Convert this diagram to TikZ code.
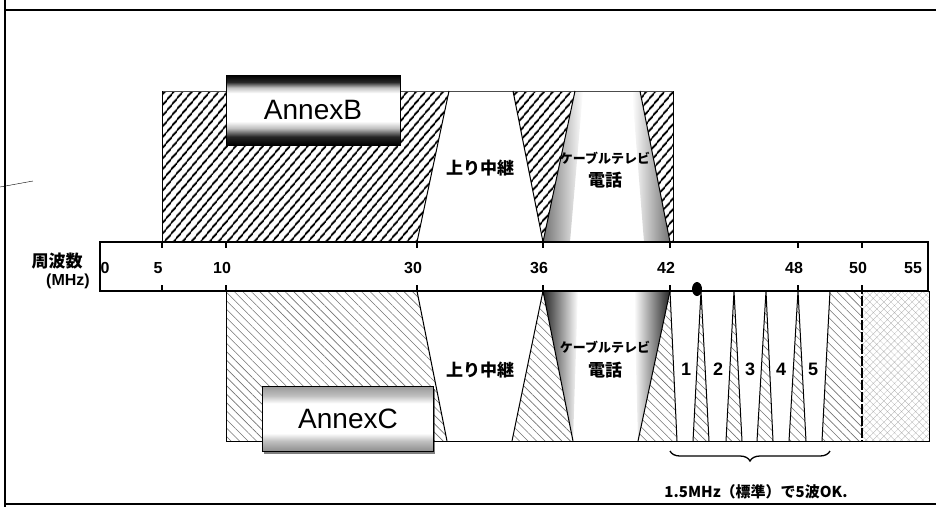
\documentclass[tikz,border=0pt]{standalone}
\usepackage{fontspec}
\setmainfont{Liberation Sans}
\newfontfamily\jpfont{Noto Sans CJK JP}
\usetikzlibrary{patterns.meta,decorations.pathreplacing,shadows}

\pgfdeclareverticalshading{annexBshade}{100bp}{color(0bp)=(black); color(25bp)=(black); color(31bp)=(black!85); color(37bp)=(black!25); color(42bp)=(white); color(62bp)=(white); color(66bp)=(black!25); color(70bp)=(black!85); color(75bp)=(black); color(100bp)=(black)}
\pgfdeclareverticalshading{annexCshade}{100bp}{color(0bp)=(black!45); color(25bp)=(black!45); color(33bp)=(black!25); color(39bp)=(white); color(62bp)=(white); color(68bp)=(black!25); color(75bp)=(black!40); color(100bp)=(black!40)}

\begin{document}
\begin{tikzpicture}[x=1pt,y=-1pt,
  hatchB/.style={pattern={Lines[angle=50,distance=6.5pt,line width=1.9pt]},pattern color=black},
  hatchC/.style={pattern={Lines[angle=-45,distance=6pt,line width=0.6pt]},pattern color=black!55},
  meshC/.style={pattern={Hatch[angle=45,distance=5pt,line width=0.3pt]},pattern color=black!30},
  edge/.style={line width=1pt},
  tickmark/.style={line width=2pt},
  annex/.style={draw=black,line width=0.8pt,shade,minimum width=174pt,minimum height=70pt,inner sep=0pt,font=\fontsize{28}{28}\selectfont},
  band/.style={font=\jpfont\bfseries\fontsize{17}{17}\selectfont,inner sep=0pt},
  cable/.style={font=\jpfont\bfseries\fontsize{13}{13}\selectfont,inner sep=0pt},
  axisnum/.style={font=\bfseries\fontsize{16}{16}\selectfont,inner sep=0pt},
  chnum/.style={font=\bfseries\fontsize{18}{18}\selectfont,inner sep=0pt}
]
\useasboundingbox (0,0) rectangle (936,507);
% frame
\draw[line width=2pt] (5,0) -- (5,507);
\draw[line width=1.2pt] (5,10) -- (936,10);
\draw[line width=1.2pt] (5,504) -- (936,504);
\draw[line width=0.4pt] (0,187) -- (33,181);

% AnnexB side
\fill[hatchB] (162,91) -- (449,91) -- (417,242) -- (162,242) -- cycle;
\fill[hatchB] (513,91) -- (575,91) -- (543,242) -- cycle;
\fill[hatchB] (640,91) -- (673,91) -- (673,242) -- (670,242) -- cycle;
\shade[left color=black!55,right color=white] (543,242) -- (575,91) -- (583,91) -- (570,242) -- cycle;
\shade[left color=white,right color=black!55] (632,91) -- (640,91) -- (670,242) -- (644,242) -- cycle;
\draw[line width=0.8pt,black!70] (162,91) -- (673,91);
\draw[edge] (162,91) -- (162,242);
\draw[edge] (673,91) -- (673,242);
\draw[edge] (449,91) -- (417,242);
\draw[edge] (513,91) -- (543,242) -- (575,91);
\draw[edge] (640,91) -- (670,242);

% AnnexC side
\fill[hatchC] (226,291) -- (417,291) -- (447,441) -- (226,441) -- cycle;
\fill[hatchC] (543,291) -- (512,441) -- (573,441) -- cycle;
\fill[hatchC] (670,291) -- (638,441) -- (677,441) -- cycle;
\foreach \t/\l/\r in {701/693/709,734/726/742,766/757/773,798/789/806}
  \fill[hatchC] (\t,291) -- (\l,441) -- (\r,441) -- cycle;
\fill[hatchC] (830,291) -- (862,291) -- (862,441) -- (822,441) -- cycle;
\fill[meshC] (862,291) rectangle (929,441);
\shade[left color=black!85,right color=white] (543,291) -- (578,291) -- (573,441) -- cycle;
\shade[left color=white,right color=black!85] (634,291) -- (670,291) -- (638,441) -- cycle;
\draw[edge] (226,291) -- (226,441) -- (929,441) -- (929,291);
\draw[edge] (417,291) -- (447,441);
\draw[edge] (543,291) -- (512,441);
\draw[edge] (543,291) -- (573,441);
\draw[edge] (670,291) -- (638,441);
\draw[edge] (670,291) -- (677,441);
\foreach \t/\l/\r in {701/693/709,734/726/742,766/757/773,798/789/806}
  \draw[edge] (\l,441) -- (\t,291) -- (\r,441);
\draw[edge] (830,291) -- (822,441);
\draw[line width=2.5pt,dash pattern=on 10pt off 2pt] (862,284) -- (862,441);

% frequency axis
\node[draw,line width=1.2pt,fill=white,minimum width=828pt,minimum height=49pt,inner sep=0pt] (axis) at (514,266.5) {};
\foreach \x/\v in {162/5,226/10,417/30,543/36,670/42,798/48,862/50}{
  \draw[tickmark] (\x,242) -- (\x,248);
  \draw[tickmark] (\x,285) -- (\x,291);
  \node[axisnum] (f\v) at (\x-4,268) {\v};
}
\node[axisnum] (f0) at (105,268) {0};
\node[axisnum] (f55) at (913,268) {55};
\node[band] (freq) at (57,261) {周波数};
\node[axisnum] (unit) at (68,281) {(MHz)};
\fill (697,289) ellipse [x radius=5pt,y radius=7pt];

% labels
\node[annex,shading=annexBshade] (annexB) at (313,110) {AnnexB};
\node[annex,shading=annexCshade,minimum width=171pt,minimum height=65pt,
  drop shadow={shadow xshift=1.5pt,shadow yshift=-2pt,fill=black}] (annexC) at (348,419) {AnnexC};
\node[band] (upB) at (480,168) {上り中継};
\node[cable] (cableB) at (605,158) {ケーブルテレビ};
\node[band] (telB) at (605,180) {電話};
\node[band] (upC) at (480,370) {上り中継};
\node[cable] (cableC) at (605,347) {ケーブルテレビ};
\node[band] (telC) at (605,370) {電話};
\foreach \n/\x in {1/686,2/718,3/750,4/781,5/813}
  \node[chnum] (ch\n) at (\x,369) {\n};

% brace
\coordinate (braceL) at (670,451);
\coordinate (braceR) at (830,451);
\draw[decorate,decoration={brace,mirror,amplitude=10pt},line width=1.3pt] (braceL) -- (braceR);
\node[font=\jpfont\bfseries\fontsize{15}{15}\selectfont,inner sep=0pt] (note) at (756,492) {1.5MHz（標準）で5波OK.};
\end{tikzpicture}
\end{document}
